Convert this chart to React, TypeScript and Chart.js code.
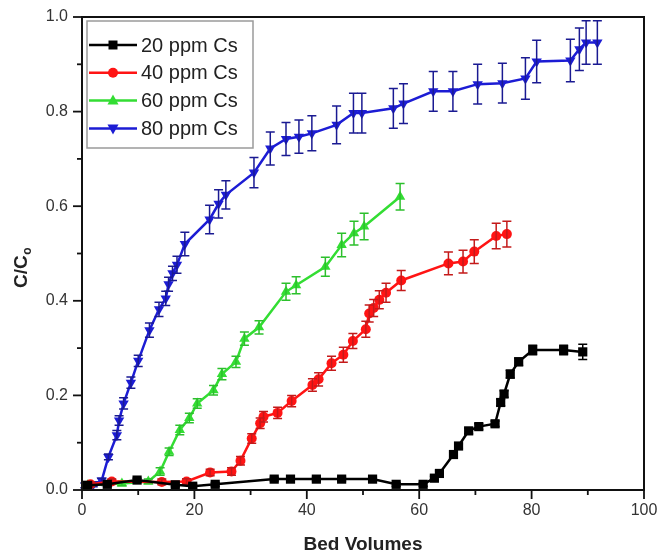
import React, { useEffect, useRef } from 'react';
import { Chart, registerables } from 'chart.js';

Chart.register(...registerables);

// ---- data ----
const seriesLabels = ['20 ppm Cs', '40 ppm Cs', '60 ppm Cs', '80 ppm Cs'];
const xTickLabels = ['0', '20', '40', '60', '80', '100'];
const yTickLabels = ['0.0', '0.2', '0.4', '0.6', '0.8', '1.0'];
const xAxisTitle = 'Bed Volumes';
const yAxisTitleMain = 'C/C';
const yAxisTitleSub = 'o';

const blackX = [1, 4.5, 9.8, 16.6, 19.7, 23.7, 34.2, 37.1, 41.7, 46.2, 51.7, 55.9, 60.7, 62.7, 63.6, 66.1, 67.0, 68.8, 70.6, 73.5, 74.5, 75.1, 76.2, 77.7, 80.2, 85.7, 89.1];
const blackY = [0.01, 0.012, 0.021, 0.011, 0.008, 0.012, 0.023, 0.023, 0.023, 0.023, 0.023, 0.012, 0.012, 0.025, 0.035, 0.075, 0.093, 0.125, 0.134, 0.14, 0.185, 0.203, 0.245, 0.271, 0.296, 0.296, 0.292];
const blackErr = [0.004, 0.004, 0.004, 0.004, 0.004, 0.004, 0.004, 0.004, 0.004, 0.004, 0.004, 0.004, 0.004, 0.004, 0.005, 0.005, 0.005, 0.006, 0.006, 0.006, 0.007, 0.007, 0.008, 0.008, 0.01, 0.01, 0.016];

const redX = [1.5, 5.3, 14.2, 18.6, 22.8, 26.6, 28.2, 30.2, 31.7, 32.3, 34.8, 37.3, 41.0, 42.1, 44.4, 46.5, 48.2, 50.5, 51.1, 51.9, 52.9, 54.1, 56.8, 65.2, 67.8, 69.8, 73.7, 75.6];
const redY = [0.012, 0.018, 0.017, 0.018, 0.037, 0.039, 0.062, 0.109, 0.141, 0.155, 0.163, 0.188, 0.222, 0.234, 0.268, 0.286, 0.315, 0.34, 0.373, 0.385, 0.402, 0.417, 0.443, 0.479, 0.483, 0.504, 0.537, 0.541];
const redErr = [0.005, 0.005, 0.006, 0.006, 0.007, 0.008, 0.009, 0.01, 0.011, 0.011, 0.012, 0.012, 0.013, 0.014, 0.015, 0.016, 0.016, 0.017, 0.018, 0.018, 0.019, 0.02, 0.021, 0.024, 0.024, 0.025, 0.027, 0.027];

const greenX = [1, 7.1, 11.8, 13.9, 15.5, 17.4, 19.1, 20.5, 23.4, 24.9, 27.4, 28.9, 31.5, 36.3, 38.1, 43.3, 46.2, 48.4, 50.2, 56.6];
const greenY = [0.01, 0.014, 0.018, 0.039, 0.081, 0.127, 0.152, 0.183, 0.211, 0.245, 0.271, 0.32, 0.344, 0.419, 0.433, 0.472, 0.518, 0.543, 0.557, 0.62];
const greenErr = [0.005, 0.005, 0.005, 0.008, 0.008, 0.01, 0.01, 0.01, 0.01, 0.012, 0.012, 0.014, 0.014, 0.018, 0.018, 0.02, 0.025, 0.025, 0.028, 0.028];

const blueX = [0.5, 2, 3.5, 4.7, 6.2, 6.6, 7.4, 8.7, 10.0, 12.0, 13.7, 14.9, 15.4, 16.1, 16.9, 18.3, 22.7, 24.3, 25.6, 30.6, 33.5, 36.3, 38.6, 40.9, 45.3, 48.3, 49.8, 55.4, 57.2, 62.5, 66.0, 70.4, 74.8, 78.9, 80.9, 86.9, 88.5, 89.7, 91.7];
const blueY = [0.01, 0.012, 0.02, 0.07, 0.116, 0.147, 0.183, 0.227, 0.273, 0.338, 0.382, 0.405, 0.435, 0.458, 0.476, 0.52, 0.572, 0.605, 0.624, 0.671, 0.722, 0.742, 0.747, 0.754, 0.772, 0.797, 0.797, 0.807, 0.817, 0.843, 0.843, 0.858, 0.86, 0.87, 0.906, 0.908, 0.932, 0.946, 0.946];
const blueErr = [0.005, 0.005, 0.005, 0.006, 0.01, 0.01, 0.012, 0.012, 0.012, 0.015, 0.015, 0.015, 0.015, 0.015, 0.018, 0.025, 0.03, 0.03, 0.03, 0.032, 0.035, 0.035, 0.035, 0.037, 0.04, 0.042, 0.042, 0.042, 0.042, 0.042, 0.042, 0.042, 0.042, 0.044, 0.045, 0.045, 0.045, 0.046, 0.046];

const seriesColors = ['#000000', '#ff1414', '#33dd33', '#1c1cd4'];
const errorColors = ['#000000', '#c41a1a', '#2cc02c', '#1a1a92'];

const toPoints = (xs: number[], ys: number[]) => xs.map((x, i) => ({ x, y: ys[i] }));

const FONT = "'Liberation Sans', Arial, sans-serif";

function drawMarker(ctx: CanvasRenderingContext2D, style: number, x: number, y: number, color: string) {
  ctx.save();
  ctx.fillStyle = color;
  ctx.beginPath();
  if (style === 0) {
    ctx.rect(x - 4.5, y - 4.5, 9, 9);
  } else if (style === 1) {
    ctx.arc(x, y, 5, 0, Math.PI * 2);
  } else if (style === 2) {
    ctx.moveTo(x, y - 6);
    ctx.lineTo(x + 5.5, y + 4);
    ctx.lineTo(x - 5.5, y + 4);
    ctx.closePath();
  } else {
    ctx.moveTo(x, y + 6);
    ctx.lineTo(x + 5.5, y - 4);
    ctx.lineTo(x - 5.5, y - 4);
    ctx.closePath();
  }
  ctx.fill();
  ctx.restore();
}

const decorPlugin = {
  id: 'decor',
  afterDatasetDraw(chart: any, args: any) {
    const ds = chart.data.datasets[args.index];
    const errs: number[] = ds.errors;
    if (!errs) return;
    const ctx = chart.ctx;
    const xs = chart.scales.x;
    const ys = chart.scales.y;
    ctx.save();
    ctx.strokeStyle = ds.errorColor;
    ctx.lineWidth = 1.5;
    ds.data.forEach((p: any, i: number) => {
      const e = errs[i];
      const px = xs.getPixelForValue(p.x);
      const top = ys.getPixelForValue(p.y + e);
      const bot = ys.getPixelForValue(p.y - e);
      ctx.beginPath();
      ctx.moveTo(px, top);
      ctx.lineTo(px, bot);
      ctx.moveTo(px - 4.5, top);
      ctx.lineTo(px + 4.5, top);
      ctx.moveTo(px - 4.5, bot);
      ctx.lineTo(px + 4.5, bot);
      ctx.stroke();
    });
    ctx.restore();
  },
  afterDraw(chart: any) {
    const ctx = chart.ctx;
    const a = chart.chartArea;
    const xs = chart.scales.x;
    const ys = chart.scales.y;
    ctx.save();
    // frame
    ctx.strokeStyle = '#111';
    ctx.lineWidth = 2;
    ctx.strokeRect(a.left, a.top, a.right - a.left, a.bottom - a.top);
    // x ticks
    ctx.lineWidth = 1.8;
    for (let v = 0; v <= 100; v += 10) {
      const px = xs.getPixelForValue(v);
      const len = v % 20 === 0 ? 9 : 5;
      ctx.beginPath();
      ctx.moveTo(px, a.bottom);
      ctx.lineTo(px, a.bottom + len);
      ctx.stroke();
    }
    // y ticks
    for (let k = 0; k <= 10; k++) {
      const py = ys.getPixelForValue(k / 10);
      const len = k % 2 === 0 ? 9 : 5;
      ctx.beginPath();
      ctx.moveTo(a.left, py);
      ctx.lineTo(a.left - len, py);
      ctx.stroke();
    }
    // x title
    ctx.fillStyle = '#222';
    ctx.font = `bold 19px ${FONT}`;
    ctx.textAlign = 'center';
    ctx.textBaseline = 'middle';
    ctx.fillText(xAxisTitle, (a.left + a.right) / 2, 545);
    // y title with subscript
    ctx.save();
    ctx.translate(22, 268);
    ctx.rotate(-Math.PI / 2);
    ctx.font = `bold 19px ${FONT}`;
    const w1 = ctx.measureText(yAxisTitleMain).width;
    ctx.font = `bold 12px ${FONT}`;
    const w2 = ctx.measureText(yAxisTitleSub).width;
    const start = -(w1 + w2) / 2;
    ctx.textAlign = 'left';
    ctx.font = `bold 19px ${FONT}`;
    ctx.fillText(yAxisTitleMain, start, 0);
    ctx.font = `bold 12px ${FONT}`;
    ctx.fillText(yAxisTitleSub, start + w1 + 0.5, 6);
    ctx.restore();
    // legend
    const lx = 87, ly = 21, lw = 166, lh = 127;
    ctx.fillStyle = '#fff';
    ctx.fillRect(lx, ly, lw, lh);
    ctx.strokeStyle = '#9a9a9a';
    ctx.lineWidth = 1.5;
    ctx.strokeRect(lx, ly, lw, lh);
    ctx.font = `20px ${FONT}`;
    ctx.textAlign = 'left';
    ctx.textBaseline = 'middle';
    seriesLabels.forEach((lab, i) => {
      const y = 45 + i * 27.8;
      ctx.strokeStyle = seriesColors[i];
      ctx.lineWidth = 2.5;
      ctx.beginPath();
      ctx.moveTo(89, y);
      ctx.lineTo(137, y);
      ctx.stroke();
      drawMarker(ctx, i, 113, y, seriesColors[i]);
      ctx.fillStyle = '#222';
      ctx.fillText(lab, 141, y + 1);
    });
    ctx.restore();
  },
};

export default function App() {
  const ref = useRef<HTMLCanvasElement>(null);
  useEffect(() => {
    if (!ref.current) return;
    Chart.defaults.font.family = FONT;
    const mk = (i: number, xs: number[], ys: number[], errs: number[], style: string, radius: number, rotation = 0) => ({
      label: seriesLabels[i],
      data: toPoints(xs, ys),
      errors: errs,
      errorColor: errorColors[i],
      borderColor: seriesColors[i],
      backgroundColor: seriesColors[i],
      pointBackgroundColor: seriesColors[i],
      pointBorderColor: seriesColors[i],
      pointBorderWidth: 0,
      pointStyle: style,
      pointRadius: radius,
      pointRotation: rotation,
      borderWidth: 2.5,
      showLine: true,
      tension: 0,
    });
    const chart = new Chart(ref.current, {
      type: 'scatter',
      data: {
        datasets: [
          mk(0, blackX, blackY, blackErr, 'rect', 6.5),
          mk(1, redX, redY, redErr, 'circle', 5),
          mk(2, greenX, greenY, greenErr, 'triangle', 6),
          mk(3, blueX, blueY, blueErr, 'triangle', 6, 180),
        ] as any,
      },
      options: {
        animation: false,
        responsive: false,
        maintainAspectRatio: false,
        layout: { padding: { top: 17, right: 15, left: 0, bottom: 0 } },
        plugins: { legend: { display: false }, tooltip: { enabled: false } },
        scales: {
          x: {
            type: 'linear',
            min: 0,
            max: 100,
            grid: { display: false, drawTicks: false },
            border: { display: false },
            ticks: {
              stepSize: 10,
              autoSkip: false,
              maxRotation: 0,
              padding: 11,
              color: '#333',
              font: { size: 16 },
              callback: (v: any) => (Number(v) % 20 === 0 ? xTickLabels[Number(v) / 20] : ''),
            },
            afterFit: (s: any) => { s.height = 66; s.paddingLeft = 0; s.paddingRight = 0; },
          },
          y: {
            type: 'linear',
            min: 0,
            max: 1,
            grid: { display: false, drawTicks: false },
            border: { display: false },
            ticks: {
              stepSize: 0.1,
              autoSkip: false,
              padding: 14,
              color: '#333',
              font: { size: 16 },
              callback: (v: any) => {
                const k = Math.round(Number(v) * 10);
                return k % 2 === 0 ? yTickLabels[k / 2] : '';
              },
            },
            afterFit: (s: any) => { s.width = 82; s.paddingTop = 0; s.paddingBottom = 0; },
          },
        },
      },
      plugins: [decorPlugin],
    });
    return () => chart.destroy();
  }, []);
  return (
    <div style={{ position: 'absolute', left: 0, top: 0, width: 659, height: 556, background: '#fff' }}>
      <canvas ref={ref} width={659} height={556} />
    </div>
  );
}
